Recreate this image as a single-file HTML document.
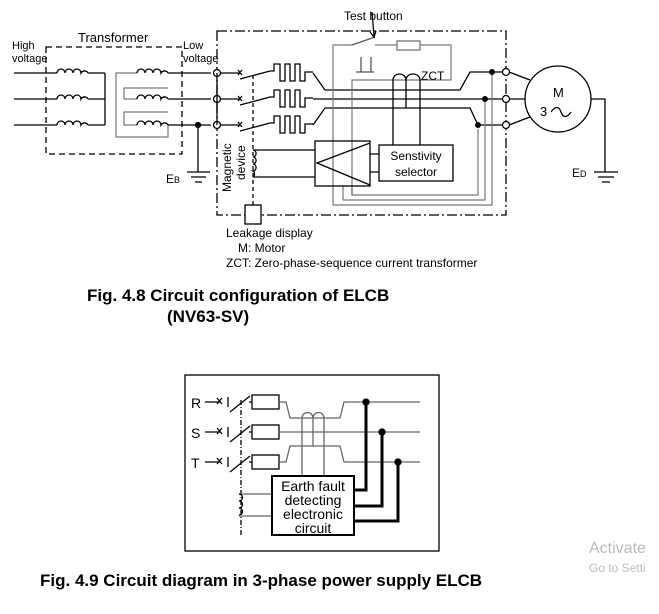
<!DOCTYPE html><html><head><style>body{margin:0;background:#fff}svg{display:block}text{font-family:"Liberation Sans",sans-serif;fill:#000}</style></head><body>
<svg width="659" height="614" viewBox="0 0 659 614" xmlns="http://www.w3.org/2000/svg" fill="none" stroke="#000" stroke-width="1.3">
<!-- transformer -->
<rect x="46" y="47" width="136" height="107" stroke-dasharray="6,4"/>
<text x="78" y="42" font-size="13" stroke="none">Transformer</text>
<text x="12" y="49" font-size="11" stroke="none">High</text>
<text x="12" y="62" font-size="11" stroke="none">voltage</text>
<text x="183" y="49" font-size="11" stroke="none">Low</text>
<text x="183" y="62" font-size="11" stroke="none">voltage</text>
<g id="p">
<path d="M14 73H57 M88 73H105"/>
<path d="M57 73a4 4 0 0 1 8 0a4 4 0 0 1 8 0a4 4 0 0 1 8 0a4 4 0 0 1 7 0"/>
</g>
<use href="#p" y="26"/><use href="#p" y="52"/>
<path d="M105 73V125"/>
<path d="M137 73H116V137H168V125 M168 112H124V125H137 M168 99V99 M137 99H124V88H168" stroke="#777" stroke-width="1.2"/>
<g id="s"><path d="M137 73a4 4 0 0 1 8 0a4 4 0 0 1 8 0a4 4 0 0 1 8 0a4 4 0 0 1 7 0"/></g>
<use href="#s" y="26"/><use href="#s" y="52"/>
<path d="M168 73H211 M168 99H211 M168 125H211"/>
<circle cx="198" cy="125" r="2.5" fill="#000"/>
<path d="M198 125V172 M187 172H210 M191 177H206 M195 182H202"/>
<text x="166" y="183" font-size="12" stroke="none">E<tspan font-size="9">B</tspan></text>
<!-- ELCB box -->
<path d="M217 31H506V215H217Z" stroke-dasharray="10,3,2,3"/>
<g fill="#fff"><circle cx="217" cy="73" r="3.5"/><circle cx="217" cy="99" r="3.5"/><circle cx="217" cy="125" r="3.5"/>
<circle cx="506" cy="72" r="3.5"/><circle cx="506" cy="99" r="3.5"/><circle cx="506" cy="125" r="3.5"/></g>
<path d="M217 73V125"/>
<g id="b"><path d="M221 73H240 M238 70l4 5 M242 70l-4 5 M240 79L270 71H274V64H280V81H285V64H290V81H295V64H300V81H305V72H313"/></g>
<use href="#b" y="26"/><use href="#b" y="52"/>
<path d="M313 73L325 90H460L470 72H503 M313 99H503 M313 125L325 108H470L478 125H503"/>
<circle cx="492" cy="72" r="2.3" fill="#000"/><circle cx="485" cy="99" r="2.3" fill="#000"/><circle cx="478" cy="125" r="2.3" fill="#000"/>
<path d="M253 75V205" stroke-dasharray="4,3"/>
<path d="M253 150a3 3.4 0 0 1 0 7a3 3.4 0 0 1 0 7a3 3.4 0 0 1 0 7a3 3.4 0 0 1 0 6"/>
<path d="M253 150H315 M253 177H315"/>
<rect x="245" y="205" width="16" height="19" fill="#fff"/>
<text font-size="12" stroke="none" transform="translate(231,192) rotate(-90)">Magnetic</text>
<text font-size="12" stroke="none" transform="translate(245,180) rotate(-90)">device</text>
<!-- internal gray -->
<path d="M333 205V45H352 M375 45H397 M420 45H451V80H352V195H478V129 M343 200H485V102 M333 205H492V75 M343 200V186" stroke="#777" stroke-width="1.2"/>
<path d="M352 195V186" stroke="#777"/>
<rect x="397" y="41" width="23" height="9" stroke="#777"/>
<path d="M352 45L375 37" stroke="#555"/>
<path d="M361 57V72H371V57 M356 72H374" stroke="#555"/>
<path d="M372 12L374 36 M370 32l4 5l2-6"/>
<text x="344" y="20" font-size="12" stroke="none">Test button</text>
<path d="M393 145V80a6.5 6 0 0 1 13 0V108 M406 80a7 6 0 0 1 14 0V145" fill="none"/>
<text x="421" y="80" font-size="12" stroke="none">ZCT</text>
<rect x="315" y="141" width="55" height="45"/>
<path d="M370 143L317 163L370 185"/>
<path d="M370 154H379 M370 172H379"/>
<rect x="379" y="145" width="74" height="36"/>
<text x="416" y="160" font-size="12" stroke="none" text-anchor="middle">Senstivity</text>
<text x="416" y="176" font-size="12" stroke="none" text-anchor="middle">selector</text>
<!-- motor -->
<path d="M509 72L530 80 M509 125L530 117 M509 99H525"/>
<circle cx="558" cy="99" r="33" fill="#fff"/>
<text x="553" y="97" font-size="13" stroke="none">M</text>
<text x="540" y="116" font-size="13" stroke="none">3</text>
<path d="M551 112c4-6 8-6 10 0s6 6 10 0"/>
<path d="M591 99H605V172 M594 172H618 M598 177H614 M602 182H610"/>
<text x="572" y="177" font-size="12" stroke="none">E<tspan font-size="9">D</tspan></text>
<text x="226" y="237" font-size="12" stroke="none">Leakage display</text>
<text x="238" y="252" font-size="12" stroke="none">M: Motor</text>
<text x="226" y="267" font-size="12" stroke="none">ZCT: Zero-phase-sequence current transformer</text>
<text x="87" y="301" font-size="17" font-weight="bold" stroke="none">Fig. 4.8  Circuit configuration of ELCB</text>
<text x="167" y="322" font-size="17" font-weight="bold" stroke="none">(NV63-SV)</text>
<!-- fig 4.9 -->
<rect x="185" y="375" width="254" height="176"/>
<g id="r"><path d="M205 402H220 M217 398l5 6 M222 398l-5 6 M228 397V407 M230 412L250 396 M249 402H252" /><rect x="252" y="395" width="27" height="14"/></g>
<use href="#r" y="30"/><use href="#r" y="60"/>
<text x="191" y="408" font-size="14" stroke="none">R</text>
<text x="191" y="438" font-size="14" stroke="none">S</text>
<text x="191" y="468" font-size="14" stroke="none">T</text>
<path d="M241 400V535" stroke-dasharray="5,2,1,2"/>
<g stroke="#666"><path d="M279 402H286L290 418H340L344 402H420 M279 432H420 M279 462H286L290 446H340L344 462H420 M302 476V418a5 5 0 0 1 11 0V446 M313 418a5 5 0 0 1 11 0V476 M239 494H272 M239 516H272"/>
<path d="M239 494a3 3 0 0 1 0 7a3 3 0 0 1 0 7a3 3 0 0 1 0 7" stroke="#000"/></g>
<rect x="272" y="476" width="82" height="59" stroke-width="2" fill="#fff"/>
<text font-size="14" stroke="none" text-anchor="middle"><tspan x="313" y="491">Earth fault</tspan><tspan x="313" y="505">detecting</tspan><tspan x="313" y="519">electronic</tspan><tspan x="313" y="533">circuit</tspan></text>
<path d="M354 490H366V402 M354 506H382V432 M354 521H398V462" stroke-width="3"/>
<circle cx="366" cy="402" r="3" fill="#000"/><circle cx="382" cy="432" r="3" fill="#000"/><circle cx="398" cy="462" r="3" fill="#000"/>
<text x="40" y="586" font-size="17" font-weight="bold" stroke="none">Fig. 4.9  Circuit diagram in 3-phase power supply ELCB</text>
<text x="589" y="553" font-size="16" stroke="none" style="fill:#bbb">Activate</text>
<text x="589" y="572" font-size="12" stroke="none" style="fill:#bbb">Go to Setti</text>
</svg></body></html>
